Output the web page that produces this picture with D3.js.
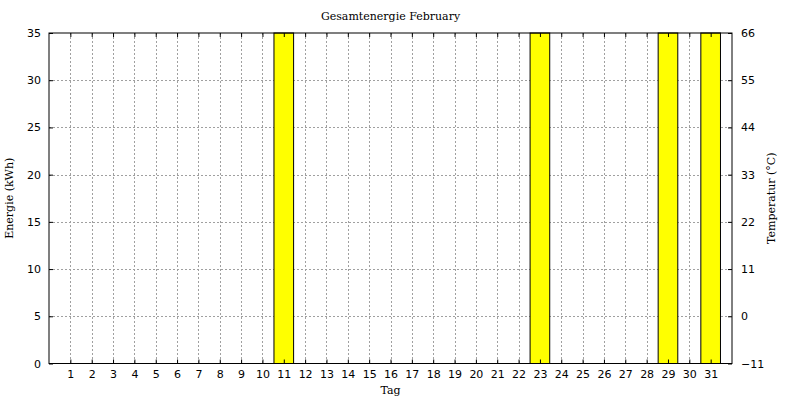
<!DOCTYPE html>
<html>
<head>
<meta charset="utf-8">
<script src="https://cdn.jsdelivr.net/npm/d3@7.9.0/dist/d3.min.js"></script>
<style>
  body { margin: 0; background: #fff; }
  svg { display: block; }
  .tick text { font-family: "DejaVu Sans", sans-serif; font-size: 11px; fill: #000; }
  .lbl { font-family: "DejaVu Serif", serif; font-size: 11px; fill: #000; }
</style>
</head>
<body>
<svg id="chart" width="800" height="400"></svg>
<script>
// data
const days = d3.range(1, 32);
const energy = [0,0,0,0,0,0,0,0,0,0,35,0,0,0,0,0,0,0,0,0,0,0,35,0,0,0,0,0,35,0,35];
const leftTicks = [0, 5, 10, 15, 20, 25, 30, 35];
const rightTicks = [-11, 0, 11, 22, 33, 44, 55, 66];

const width = 800, height = 400;
const margin = { top: 33, right: 68, bottom: 36.5, left: 49 };
const iw = width - margin.left - margin.right;
const ih = height - margin.top - margin.bottom;

const svg = d3.select("#chart");
const g = svg.append("g").attr("transform", `translate(${margin.left},${margin.top})`);

const x = d3.scaleLinear().domain([0, 32]).range([0, iw]);
const y = d3.scaleLinear().domain([0, 35]).range([ih, 0]);
const y2 = d3.scaleLinear().domain([-11, 66]).range([ih, 0]);

// grid
g.append("g")
  .selectAll("line.gx")
  .data(days)
  .join("line")
  .attr("x1", d => Math.round(x(d)) + 0.5)
  .attr("x2", d => Math.round(x(d)) + 0.5)
  .attr("y1", 0)
  .attr("y2", ih)
  .attr("stroke", "#a0a0a0")
  .attr("stroke-dasharray", "2,2");

g.append("g")
  .selectAll("line.gy")
  .data(leftTicks.slice(1, -1))
  .join("line")
  .attr("x1", 0)
  .attr("x2", iw)
  .attr("y1", d => Math.round(y(d)) + 0.5)
  .attr("y2", d => Math.round(y(d)) + 0.5)
  .attr("stroke", "#a0a0a0")
  .attr("stroke-dasharray", "2,2");

// bars
const bw = 0.92;
g.append("g")
  .selectAll("rect")
  .data(days.map((d, i) => ({ d, v: energy[i] })).filter(o => o.v > 0))
  .join("rect")
  .attr("x", o => x(o.d - bw / 2))
  .attr("width", o => x(bw) - x(0))
  .attr("y", o => y(o.v))
  .attr("height", o => y(0) - y(o.v))
  .attr("fill", "#ffff00")
  .attr("stroke", "#000")
  .attr("stroke-width", 1);

// axes
const axBottom = d3.axisBottom(x).tickValues(days).tickFormat(d3.format("d")).tickSizeInner(-4).tickSizeOuter(0).tickPadding(7);
const axTop = d3.axisTop(x).tickValues(days).tickFormat("").tickSizeInner(-4).tickSizeOuter(0);
const axLeft = d3.axisLeft(y).tickValues(leftTicks).tickSizeInner(-4).tickSizeOuter(0).tickPadding(8);
const axRight = d3.axisRight(y2).tickValues(rightTicks).tickSizeInner(-4).tickSizeOuter(0).tickPadding(9);

g.append("g").attr("transform", `translate(0,${ih})`).call(axBottom);
g.append("g").call(axTop);
g.append("g").call(axLeft);
g.append("g").attr("transform", `translate(${iw},0)`).call(axRight);
g.selectAll(".domain").remove();
g.selectAll(".tick line").attr("stroke", "#000");

// frame
g.append("rect")
  .attr("x", 0).attr("y", 0)
  .attr("width", iw).attr("height", ih)
  .attr("fill", "none")
  .attr("stroke", "#000");

// labels
svg.append("text").attr("class", "lbl")
  .attr("x", margin.left + iw / 2).attr("y", 20)
  .attr("text-anchor", "middle")
  .text("Gesamtenergie February");

svg.append("text").attr("class", "lbl")
  .attr("x", margin.left + iw / 2).attr("y", 394)
  .attr("text-anchor", "middle")
  .text("Tag");

svg.append("text").attr("class", "lbl")
  .attr("transform", `translate(13,${margin.top + ih / 2}) rotate(-90)`)
  .attr("text-anchor", "middle")
  .text("Energie (kWh)");

svg.append("text").attr("class", "lbl")
  .attr("transform", `translate(775,${margin.top + ih / 2}) rotate(-90)`)
  .attr("text-anchor", "middle")
  .text("Temperatur (°C)");
</script>
</body>
</html>
